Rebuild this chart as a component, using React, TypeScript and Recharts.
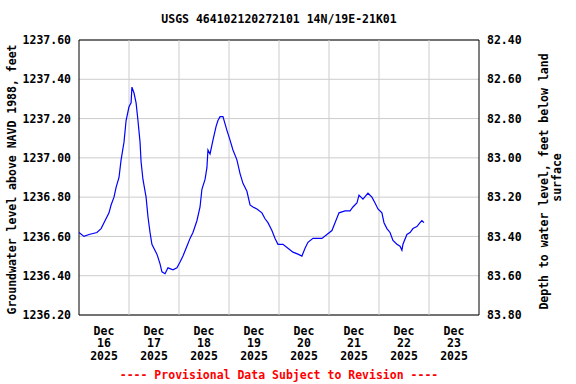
import React from 'react';
import { LineChart, Line, XAxis, YAxis, CartesianGrid, ReferenceLine, ReferenceArea, Label } from 'recharts';

// hours since Dec 16 2025 00:00
const hours: number[] = [
  0, 2.4, 4.8, 8.6, 10.6, 12.0, 14.4, 15.4, 16.8, 17.8, 19.2, 20.2, 21.6, 22.6, 24.0, 25.0, 25.4, 26.4, 27.4, 28.3,
  29.3, 29.8, 30.7, 32.2, 33.1, 34.1, 35.0, 37.4, 38.9, 39.8, 41.3, 42.7, 45.1, 47.0, 48.5, 49.9, 51.8, 53.3, 54.7, 56.6,
  58.1, 59.0, 60.5, 61.4, 61.9, 62.9, 64.3, 65.8, 66.7, 67.7, 69.1, 71.0, 72.5, 73.9, 75.8, 77.3, 78.7, 80.6, 82.1, 83.5,
  85.4, 87.8, 89.3, 90.7, 92.6, 94.1, 95.5, 97.9, 100.3, 102.7, 105.1, 107.0, 108.5, 109.9, 112.3, 116.6, 119.0, 121.4, 122.9, 124.8,
  127.7, 130.1, 131.5, 133.4, 134.4, 136.3, 138.7, 140.6, 142.1, 143.5, 145.4, 146.4, 147.8, 149.3, 150.7, 152.6, 154.1, 155.0, 155.5, 157.4,
  158.9, 160.3, 162.2, 163.7, 164.6, 165.6,
];

const levels: number[] = [
  1236.62, 1236.60, 1236.61, 1236.62, 1236.64, 1236.67, 1236.72, 1236.76, 1236.80, 1236.85, 1236.90, 1236.99, 1237.08, 1237.19, 1237.26, 1237.28, 1237.36, 1237.33, 1237.28, 1237.19,
  1237.08, 1236.98, 1236.89, 1236.80, 1236.70, 1236.62, 1236.56, 1236.51, 1236.46, 1236.42, 1236.41, 1236.44, 1236.43, 1236.44, 1236.47, 1236.50, 1236.55, 1236.59, 1236.62, 1236.68,
  1236.75, 1236.84, 1236.89, 1236.95, 1237.04, 1237.02, 1237.09, 1237.16, 1237.19, 1237.21, 1237.21, 1237.14, 1237.09, 1237.04, 1236.99, 1236.92, 1236.87, 1236.83, 1236.76, 1236.75,
  1236.74, 1236.72, 1236.69, 1236.67, 1236.63, 1236.59, 1236.56, 1236.56, 1236.54, 1236.52, 1236.51, 1236.50, 1236.54, 1236.57, 1236.59, 1236.59, 1236.61, 1236.63, 1236.67, 1236.72,
  1236.73, 1236.73, 1236.75, 1236.77, 1236.81, 1236.79, 1236.82, 1236.80, 1236.77, 1236.74, 1236.72, 1236.67, 1236.64, 1236.62, 1236.58, 1236.56, 1236.55, 1236.53, 1236.56, 1236.61,
  1236.62, 1236.64, 1236.65, 1236.67, 1236.68, 1236.67,
];

const dayLabels: string[] = ['16', '17', '18', '19', '20', '21', '22', '23'];
const dayTicks: number[] = [12, 36, 60, 84, 108, 132, 156, 180];
const dayBoundaries: number[] = [24, 48, 72, 96, 120, 144, 168];
const leftTicks: number[] = [1236.2, 1236.4, 1236.6, 1236.8, 1237.0, 1237.2, 1237.4, 1237.6];
const rightTicks: number[] = [82.4, 82.6, 82.8, 83.0, 83.2, 83.4, 83.6, 83.8];

const data = hours.map((h, i) => ({ h, v: levels[i] }));

const FONT = '"DejaVu Sans Mono", monospace';
const FS = 11.5;

const XTick = (props: any) => {
  const { x, y, payload } = props;
  const idx = dayTicks.indexOf(payload.value);
  return (
    <text x={x} y={y} textAnchor="middle" fontFamily={FONT} fontWeight="bold" fontSize={FS} fill="#000">
      <tspan x={x} dy={19.5}>Dec</tspan>
      <tspan x={x} dy={12.8}>{dayLabels[idx]}</tspan>
      <tspan x={x} dy={12.8}>2025</tspan>
    </text>
  );
};

const LeftLabel = (props: any) => {
  const vb = props.viewBox;
  const cx = 12;
  const cy = vb.y + vb.height / 2 + 2;
  return (
    <text x={cx} y={cy} transform={`rotate(-90 ${cx} ${cy})`} textAnchor="middle" dominantBaseline="central"
      fontFamily={FONT} fontWeight="bold" fontSize={FS} fill="#000">
      Groundwater level above NAVD 1988, feet
    </text>
  );
};

const RightLabel = (props: any) => {
  const vb = props.viewBox;
  const cy = vb.y + vb.height / 2 + 4;
  const x1 = vb.x + 65;
  const x2 = vb.x + 78;
  return (
    <g>
      <text x={x1} y={cy} transform={`rotate(-90 ${x1} ${cy})`} textAnchor="middle" dominantBaseline="central"
        fontFamily={FONT} fontWeight="bold" fontSize={FS} fill="#000">
        Depth to water level, feet below land
      </text>
      <text x={x2} y={cy - 4} transform={`rotate(-90 ${x2} ${cy - 4})`} textAnchor="middle" dominantBaseline="central"
        fontFamily={FONT} fontWeight="bold" fontSize={FS} fill="#000">
        surface
      </text>
    </g>
  );
};

export default function App() {
  const tickStyle = { fontFamily: FONT, fontWeight: 'bold' as const, fontSize: FS, fill: '#000' };
  return (
    <div style={{ position: 'absolute', left: 0, top: 0, width: 576, height: 384, background: '#fff' }}>
      <div style={{ position: 'absolute', left: 79, top: 13, width: 400, textAlign: 'center', fontFamily: FONT, fontWeight: 'bold', fontSize: FS, lineHeight: '12px', color: '#000', whiteSpace: 'pre' }}>
        USGS 464102120272101 14N/19E-21K01
      </div>
      <LineChart width={576} height={384} data={data} margin={{ top: 40, right: 0, bottom: 0, left: 0 }}>
        <CartesianGrid vertical={false} stroke="#cccccc" strokeWidth={1} yAxisId="left" />
        <XAxis dataKey="h" type="number" domain={[0, 192]} ticks={dayTicks} interval={0} height={69}
          tickLine={false} axisLine={false} tickSize={0} tickMargin={0} tick={<XTick />} allowDataOverflow />
        <YAxis yAxisId="left" type="number" domain={[1236.2, 1237.6]} ticks={leftTicks} width={79}
          tickLine={false} axisLine={false} tick={tickStyle} tickFormatter={(v: number) => v.toFixed(2)} allowDataOverflow
          label={<Label content={<LeftLabel />} />} />
        <YAxis yAxisId="right" orientation="right" type="number" domain={[82.4, 83.8]} reversed ticks={rightTicks} width={97}
          tickLine={false} axisLine={false} tick={tickStyle} tickFormatter={(v: number) => v.toFixed(2)} allowDataOverflow
          label={<Label content={<RightLabel />} />} />
        {dayBoundaries.map((d) => (
          <ReferenceLine key={d} x={d} yAxisId="left" stroke="#cccccc" strokeWidth={1} ifOverflow="visible" />
        ))}
        <ReferenceArea x1={0} x2={192} y1={1236.2} y2={1237.6} yAxisId="left" fill="none" fillOpacity={0} stroke="#000" strokeWidth={1} ifOverflow="visible" />
        <Line yAxisId="left" dataKey="v" type="linear" stroke="#0000ff" strokeWidth={1.2} dot={false} isAnimationActive={false} />
      </LineChart>
      <div style={{ position: 'absolute', left: 79, top: 369, width: 400, textAlign: 'center', fontFamily: FONT, fontWeight: 'bold', fontSize: FS, lineHeight: '12px', color: '#ff0000', whiteSpace: 'pre' }}>
        ---- Provisional Data Subject to Revision ----
      </div>
    </div>
  );
}
